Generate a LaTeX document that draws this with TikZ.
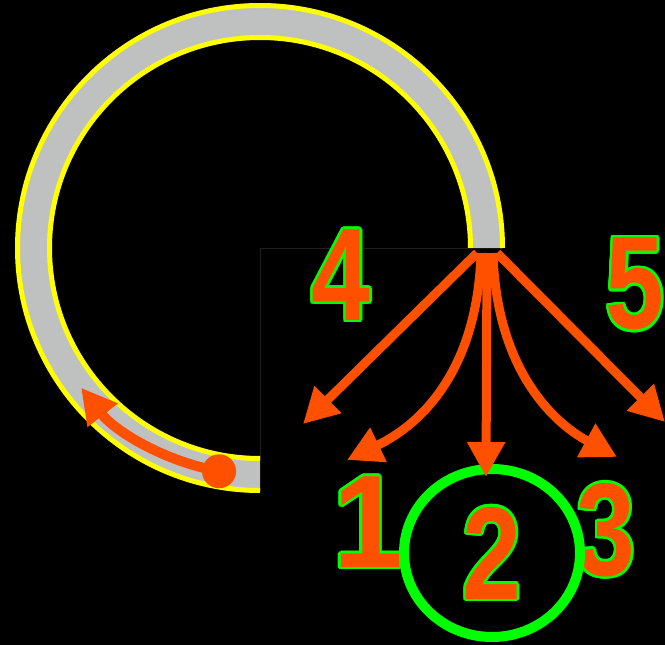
\documentclass[tikz,border=0pt]{standalone}
\usepackage{fontspec}
\usepackage{graphicx}
\usetikzlibrary{arrows.meta,calc}
\newfontfamily\numfont{Liberation Sans}
\definecolor{ringgrey}{RGB}{191,193,192}
\definecolor{ringyellow}{RGB}{255,255,0}
\definecolor{flowred}{RGB}{255,80,0}
\definecolor{markgreen}{RGB}{0,255,0}
\definecolor{faintline}{RGB}{32,32,32}

\tikzset{
  flow/.style={flowred,line width=9pt,-{Triangle[length=35pt,width=36pt]}},
  digit/.style={inner sep=0pt,font=\numfont\bfseries\fontsize{132}{132}\selectfont},
}
% outlined digit: green copies behind, orange on top
\newcommand{\digitlabel}[4][0.8]{%
  \foreach \a in {0,22.5,...,337.5}
    \node[digit,text=markgreen] at ($(#3)+(\a:2.5)$) {\scalebox{#1}[1]{#4}};
  \node[digit,text=flowred] (#2) at (#3) {\scalebox{#1}[1]{#4}};
}

\begin{document}
\begin{tikzpicture}[x=1pt,y=-1pt]
    \fill[black] (0,0) rectangle (665,645);
    \useasboundingbox (0,0) rectangle (665,645);

    % Faint corner
    \draw[faintline,line width=1pt] (468,248) -- (260,248) -- (260,460);

    % Ring
    \begin{scope}[shift={(260,248)}]
        \fill[ringgrey] (0:242.5) arc[start angle=0,end angle=-270,radius=242.5]
            -- (90:210.5) arc[start angle=-270,end angle=0,radius=210.5] -- cycle;
        \draw[ringyellow,line width=5pt] (0:242.5) arc[start angle=0,end angle=-270,radius=242.5];
        \draw[ringyellow,line width=5pt] (0:210.5) arc[start angle=0,end angle=-270,radius=210.5];
        % Rotation on the ring
        \node[circle,fill=flowred,inner sep=0pt,minimum size=34pt] (dot) at (100.4:227) {};
        \draw[flow,line width=10pt] (dot.center) arc[start angle=100.4,end angle=142,radius=227];
    \end{scope}

    % Numbers
    \digitlabel{n4}{341,275}{4}
    \digitlabel{n5}{635,284}{5}
    \digitlabel[0.95]{n1}{368,522}{1}
    \digitlabel{n2}{492,553}{2}
    \digitlabel{n3}{606,530}{3}
    \draw[markgreen,line width=10pt] (n2) ellipse[x radius=88,y radius=84];

    % Fan of arrows
    \coordinate (h1) at (477,253);
    \coordinate (h2) at (481,253);
    \coordinate (h3) at (487,253);
    \coordinate (h4) at (493,253);
    \coordinate (h5) at (497,253);
    \coordinate (t1) at (303,424);
    \coordinate (t2) at (347,460);
    \coordinate (t3) at (486,477);
    \coordinate (t4) at (617,457);
    \coordinate (t5) at (665,422);
    \draw[flow] (h1) -- (t1);
    \draw[flow] (h2) .. controls (478,360) and (430,420) .. (t2);
    \draw[flow] (h3) -- (t3);
    \draw[flow] (h4) .. controls (496,360) and (545,418) .. (t4);
    \draw[flow] (h5) -- (t5);
\end{tikzpicture}
\end{document}
